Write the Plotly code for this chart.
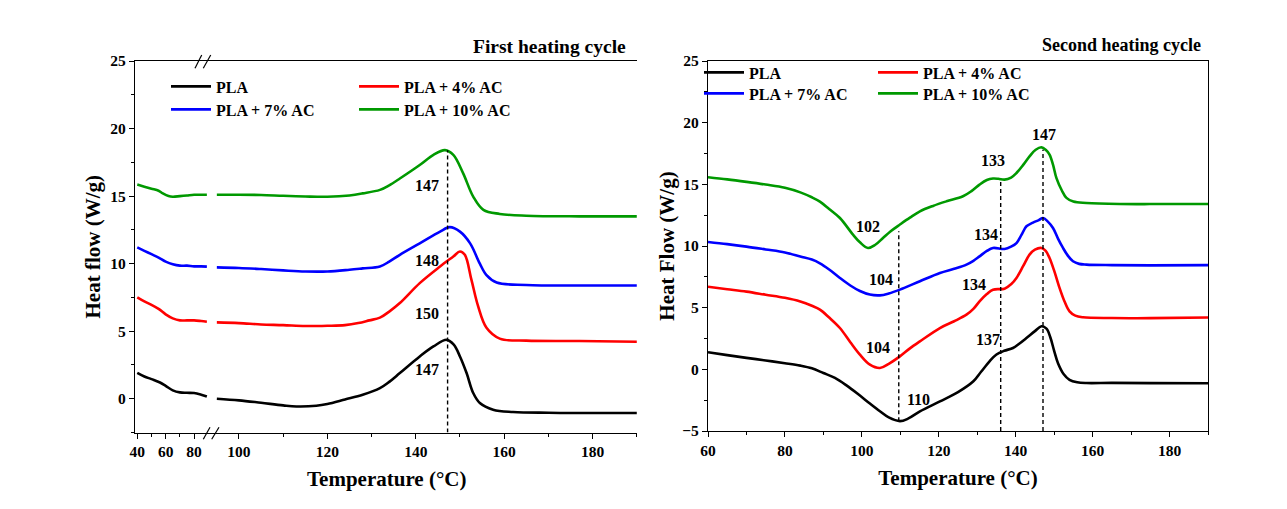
import plotly.graph_objects as go

# page body has an 8px margin; the figure is sized to fit inside the window
OFF = 8
W, H = 1279, 501
SERIES = ["PLA", "PLA + 4% AC", "PLA + 7% AC", "PLA + 10% AC"]
COLORS = ["#000000", "#ff0000", "#0000ff", "#009900"]

# ---------- First heating cycle (left panel, broken x axis) ----------
# segment below the axis break (40-90 °C)
h1_seg1_T = {
    "PLA": [40, 45, 50, 56, 60, 65, 70, 75, 80, 85, 89],
    "PLA + 4% AC": [40, 45, 50, 55, 60, 65, 70, 75, 80, 85, 89],
    "PLA + 7% AC": [40, 45, 50, 55, 60, 65, 70, 75, 80, 85, 89],
    "PLA + 10% AC": [40, 45, 50, 55, 58, 62, 65, 70, 75, 80, 85, 89],
}
h1_seg1_v = {
    "PLA": [1.92, 1.65, 1.45, 1.2, 0.95, 0.62, 0.47, 0.44, 0.42, 0.3, 0.17],
    "PLA + 4% AC": [7.5, 7.2, 6.95, 6.65, 6.25, 5.95, 5.8, 5.8, 5.8, 5.75, 5.7],
    "PLA + 7% AC": [11.2, 10.95, 10.7, 10.45, 10.15, 9.95, 9.85, 9.85, 9.8, 9.8, 9.78],
    "PLA + 10% AC": [15.85, 15.7, 15.55, 15.4, 15.2, 15.0, 14.95, 15.0, 15.05, 15.1, 15.1, 15.1],
}
# segment above the axis break (95-190 °C)
h1_seg2_T = {
    "PLA": [95, 100, 105, 110, 113, 117.5, 120, 124, 128, 131.9, 134, 136.4, 140.9, 144, 147,
            148.6, 150, 151.5, 153, 154.5, 157.5, 162, 170, 177, 190],
    "PLA + 4% AC": [95, 100, 105, 110, 115, 120, 124, 127, 129.5, 131.9, 134, 136.4, 140.9,
                    145.5, 148.5, 150, 151.1, 152.6, 154.1, 156, 159, 165, 177, 190],
    "PLA + 7% AC": [95, 100, 105, 110, 115, 120, 125, 128, 131.9, 134, 136.4, 140.9, 145.5,
                    147.7, 150, 152.3, 154.5, 156, 158.3, 165, 177, 190],
    "PLA + 10% AC": [95, 100, 105, 110, 115, 120, 125, 128, 131.9, 134, 136.4, 140.9, 144,
                     146.6, 148.5, 150.7, 153, 155.3, 159, 165, 177, 190],
}
h1_seg2_v = {
    "PLA": [0.0, -0.12, -0.3, -0.49, -0.57, -0.52, -0.39, -0.05, 0.3, 0.79, 1.25, 1.9, 3.13,
            3.87, 4.36, 4.0, 3.13, 1.9, 0.42, -0.32, -0.81, -0.98, -1.04, -1.06, -1.06],
    "PLA + 4% AC": [5.65, 5.6, 5.5, 5.45, 5.38, 5.4, 5.45, 5.6, 5.8, 6.0, 6.45, 7.08, 8.56,
                    9.79, 10.53, 10.9, 10.65, 8.8, 6.85, 5.25, 4.45, 4.3, 4.27, 4.22],
    "PLA + 7% AC": [9.72, 9.68, 9.6, 9.5, 9.42, 9.42, 9.55, 9.65, 9.79, 10.15, 10.65, 11.5,
                    12.37, 12.7, 12.37, 11.5, 10.0, 9.15, 8.6, 8.42, 8.38, 8.38],
    "PLA + 10% AC": [15.1, 15.1, 15.08, 15.02, 14.97, 14.95, 15.05, 15.2, 15.46, 15.8, 16.3,
                     17.3, 18.05, 18.4, 18.05, 16.7, 14.96, 13.98, 13.68, 13.55, 13.5, 13.5],
}
h1_peak_T = [147.2]
h1_peak_top = [18.4]
h1_labels = ["147", "148", "150", "147"]
h1_label_T = [142.6, 142.6, 142.6, 142.6]
h1_label_v = [15.75, 10.23, 6.29, 2.14]

# ---------- Second heating cycle (right panel) ----------
h2_T = {
    "PLA": [60, 65, 70, 75, 80, 84, 87, 90, 93, 96, 99, 102, 104.7, 107, 109.9, 112, 115.1,
            120.3, 125, 129, 131, 133.2, 135, 137, 139.3, 141, 142.8, 145, 146.7, 148, 149, 150,
            151, 152.5, 154, 156, 158.4, 165, 175, 190],
    "PLA + 4% AC": [60, 65, 70, 75, 80, 84, 87, 89.1, 91.5, 94.3, 97, 99.5, 102.1, 104.7, 107,
                    109.9, 112.5, 115.1, 120.3, 124, 127.2, 129, 130.6, 132.5, 134.1, 137.1,
                    138.8, 140.2, 142, 143.6, 145, 146.7, 147.8, 148.8, 150, 151.4, 152.7, 154,
                    155.5, 157.5, 165, 175, 190],
    "PLA + 7% AC": [60, 65, 70, 75, 80, 84, 87, 89.1, 91.5, 94.3, 97, 99.5, 102.1, 104.7, 107,
                    109.9, 115.1, 120.3, 124, 127.2, 129, 130.6, 132.5, 134.1, 137.1, 138.8,
                    140.2, 141.5, 142.8, 144.5, 146, 147.1, 148.3, 149.7, 151, 152.3, 153.6,
                    154.9, 156.5, 158.4, 165, 175, 190],
    "PLA + 10% AC": [60, 65, 70, 75, 80, 84, 87, 89.1, 91.5, 94.3, 97.7, 99.5, 101.6, 103.5,
                     105.5, 107.5, 109.9, 112.5, 115.1, 118.5, 122, 126.3, 128.5, 130.6, 132.5,
                     134.1, 135.5, 137.1, 138.8, 140.2, 142, 143.6, 145.2, 146.7, 147.8, 148.8,
                     149.7, 150.6, 152, 153.2, 155, 158.4, 167, 178, 190],
}
h2_v = {
    "PLA": [1.38, 1.15, 0.93, 0.72, 0.5, 0.3, 0.08, -0.3, -0.7, -1.3, -2.0, -2.75, -3.4, -3.9,
            -4.2, -4.0, -3.41, -2.6, -1.85, -0.97, -0.2, 0.65, 1.2, 1.5, 1.73, 2.1, 2.54, 3.1,
            3.49, 3.3, 2.6, 1.5, 0.5, -0.4, -0.85, -1.05, -1.11, -1.1, -1.12, -1.13],
    "PLA + 4% AC": [6.7, 6.5, 6.3, 6.05, 5.8, 5.5, 5.15, 4.84, 4.2, 3.35, 2.2, 1.19, 0.38, 0.11,
                    0.45, 1.05, 1.7, 2.27, 3.35, 3.9, 4.43, 4.9, 5.51, 6.1, 6.46, 6.54, 6.9, 7.41,
                    8.4, 9.3, 9.7, 9.84, 9.6, 9.03, 8.0, 6.6, 5.5, 4.7, 4.35, 4.22, 4.16, 4.15,
                    4.2],
    "PLA + 7% AC": [10.32, 10.15, 9.95, 9.72, 9.48, 9.15, 8.9, 8.6, 8.1, 7.41, 6.8, 6.35, 6.06,
                    6.0, 6.15, 6.46, 7.14, 7.81, 8.15, 8.49, 8.8, 9.16, 9.6, 9.84, 9.76, 9.95,
                    10.24, 10.9, 11.6, 11.9, 12.1, 12.27, 12.0, 11.46, 10.6, 9.84, 9.2, 8.76,
                    8.55, 8.49, 8.45, 8.43, 8.45],
    "PLA + 10% AC": [15.57, 15.4, 15.2, 14.98, 14.72, 14.35, 13.95, 13.6, 13.0, 12.27, 10.92,
                     10.3, 9.84, 10.1, 10.65, 11.2, 11.74, 12.3, 12.81, 13.25, 13.62, 14.03,
                     14.45, 14.98, 15.35, 15.47, 15.45, 15.38, 15.55, 15.92, 16.6, 17.27, 17.8,
                     18.0, 17.8, 17.41, 16.6, 15.5, 14.5, 13.9, 13.6, 13.49, 13.41, 13.4, 13.4],
}
h2_peak_T = [109.6, 136.1, 147.1]
h2_peak_bottom = [-4.2, -5.0, -5.0]
h2_peak_top = [11.2, 15.4, 17.8]
h2_labels = ["147", "133", "102", "134", "104", "134", "104", "137", "110"]
h2_label_T = [147.3, 134.1, 101.6, 132.2, 104.9, 129.1, 104.2, 132.8, 114.6]
h2_label_v = [19.08, 16.93, 11.6, 10.97, 7.27, 6.87, 1.78, 2.41, -2.46]

# ---------------- figure ----------------
FONT = "Liberation Serif"
fig = go.Figure()


def px_x(p):
    return (p - OFF) / W


def px_y(p):
    return 1 - (p - OFF) / H


legend_of = {"PLA": "legend", "PLA + 4% AC": "legend",
             "PLA + 7% AC": "legend2", "PLA + 10% AC": "legend2"}
legend_of_r = {"PLA": "legend3", "PLA + 4% AC": "legend3",
               "PLA + 7% AC": "legend4", "PLA + 10% AC": "legend4"}

LW = 2.6
LINE = dict(width=LW, shape="spline", smoothing=1.0)
for name, col in zip(SERIES, COLORS):
    fig.add_trace(go.Scatter(x=h1_seg1_T[name], y=h1_seg1_v[name], xaxis="x", yaxis="y",
                             mode="lines", line=dict(color=col, **LINE),
                             showlegend=False, name=name, legendgroup="h1" + name))
    fig.add_trace(go.Scatter(x=h1_seg2_T[name], y=h1_seg2_v[name], xaxis="x2", yaxis="y",
                             mode="lines", line=dict(color=col, **LINE),
                             name=name, legend=legend_of[name], legendgroup="h1" + name))
for name, col in zip(SERIES, COLORS):
    fig.add_trace(go.Scatter(x=h2_T[name], y=h2_v[name], xaxis="x3", yaxis="y3",
                             mode="lines", line=dict(color=col, **LINE),
                             name=name, legend=legend_of_r[name]))

# dashed peak markers
for t, top in zip(h1_peak_T, h1_peak_top):
    fig.add_trace(go.Scatter(x=[t, t], y=[-2.5, top], xaxis="x2", yaxis="y", mode="lines",
                             line=dict(color="black", width=1.4, dash="4px,3px"), showlegend=False,
                             hoverinfo="skip"))
for t, bot, top in zip(h2_peak_T, h2_peak_bottom, h2_peak_top):
    fig.add_trace(go.Scatter(x=[t, t], y=[bot, top], xaxis="x3", yaxis="y3", mode="lines",
                             line=dict(color="black", width=1.4, dash="4px,3px"), showlegend=False,
                             hoverinfo="skip"))

tickfont = dict(family=FONT, size=15.5, color="black", weight="bold")
common_ax = dict(showline=True, linecolor="black", linewidth=1.2, ticks="outside", ticklen=5,
                 tickwidth=1.2, tickcolor="black", showgrid=False, zeroline=False,
                 tickfont=tickfont, automargin=False)
MINOR = dict(ticks="outside", ticklen=3, tickcolor="black", tickwidth=1.2)
TITLEFONT = dict(family=FONT, size=21, color="black", weight="bold")

ydom1 = [px_y(432.5), px_y(61)]
ydom3 = [px_y(431), px_y(61)]

fig.update_layout(
    width=W, height=H, margin=dict(l=0, r=0, t=0, b=0, autoexpand=False),
    paper_bgcolor="white", plot_bgcolor="white",
    font=dict(family=FONT, color="black"),
    xaxis=dict(domain=[px_x(135), px_x(208)], range=[38.4, 89.8], anchor="y",
               tick0=40, dtick=20, minor=dict(dtick=10, **MINOR),
               mirror=True, **common_ax),
    xaxis2=dict(domain=[px_x(208), px_x(637)], range=[93, 190.05], anchor="y",
                tick0=100, dtick=20, minor=dict(dtick=10, **MINOR),
                mirror=True, **common_ax),
    yaxis=dict(domain=ydom1, range=[-2.5, 25], anchor="x", tick0=0, dtick=5,
               minor=dict(dtick=2.5, **MINOR),
               title=dict(text="Heat flow (W/g)", font=TITLEFONT, standoff=3),
               **common_ax),
    yaxis2=dict(domain=ydom1, range=[-2.5, 25], anchor="x2", overlaying="y", side="right",
                showline=True, linecolor="black", linewidth=1.2, ticks="", showticklabels=False,
                showgrid=False, zeroline=False, automargin=False),
    xaxis3=dict(domain=[px_x(708), px_x(1208)], range=[60, 190], anchor="y3",
                tick0=60, dtick=20, minor=dict(dtick=10, **MINOR),
                mirror=True,
                title=dict(text="Temperature (°C)", font=TITLEFONT, standoff=12),
                **common_ax),
    yaxis3=dict(domain=ydom3, range=[-5, 25], anchor="x3", tick0=0, dtick=5,
                minor=dict(dtick=2.5, **MINOR),
                mirror=True,
                title=dict(text="Heat Flow (W/g)", font=TITLEFONT, standoff=1),
                **common_ax),
)

legfont = dict(family=FONT, size=16, color="black", weight="bold")
legcommon = dict(orientation="h", xanchor="left", yanchor="top", bgcolor="rgba(0,0,0,0)",
                 borderwidth=0, font=legfont, itemwidth=40, tracegroupgap=0)
fig.update_layout(
    legend=dict(x=px_x(166), y=px_y(69.5), entrywidth=133, **legcommon),
    legend2=dict(x=px_x(166), y=px_y(92.5), entrywidth=133, **legcommon),
    legend3=dict(x=px_x(699), y=px_y(55.5), entrywidth=119, **legcommon),
    legend4=dict(x=px_x(699), y=px_y(76.5), entrywidth=119, **legcommon),
)

ann = []
for txt, t, v in zip(h1_labels, h1_label_T, h1_label_v):
    ann.append(dict(x=t, y=v, xref="x2", yref="y", text=txt, showarrow=False,
                    font=dict(family=FONT, size=16, color="black", weight="bold")))
for txt, t, v in zip(h2_labels, h2_label_T, h2_label_v):
    ann.append(dict(x=t, y=v, xref="x3", yref="y3", text=txt, showarrow=False,
                    font=dict(family=FONT, size=16, color="black", weight="bold")))
ann.append(dict(x=px_x(628), y=px_y(46), xref="paper", yref="paper", xanchor="right",
                yanchor="middle", text="First heating cycle", showarrow=False,
                font=dict(family=FONT, size=19.5, color="black", weight="bold")))
ann.append(dict(x=px_x(1203), y=px_y(45), xref="paper", yref="paper", xanchor="right",
                yanchor="middle", text="Second heating cycle", showarrow=False,
                font=dict(family=FONT, size=18, color="black", weight="bold")))
ann.append(dict(x=px_x(386), y=px_y(479), xref="paper", yref="paper", xanchor="center",
                yanchor="middle", text="Temperature (°C)", showarrow=False,
                font=TITLEFONT))
fig.update_layout(annotations=ann)

# axis-break marks "//"
shapes = []
for (x0, y0, x1, y1) in [(195, 68.3, 201.7, 55), (203.3, 68.3, 210.7, 55),
                         (203.3, 439.3, 210, 427.3), (211.7, 439.3, 219, 427.3)]:
    shapes.append(dict(type="line", xref="paper", yref="paper", x0=px_x(x0), y0=px_y(y0),
                       x1=px_x(x1), y1=px_y(y1), line=dict(color="black", width=1.2)))
fig.update_layout(shapes=shapes)

fig.write_html("out.html")
